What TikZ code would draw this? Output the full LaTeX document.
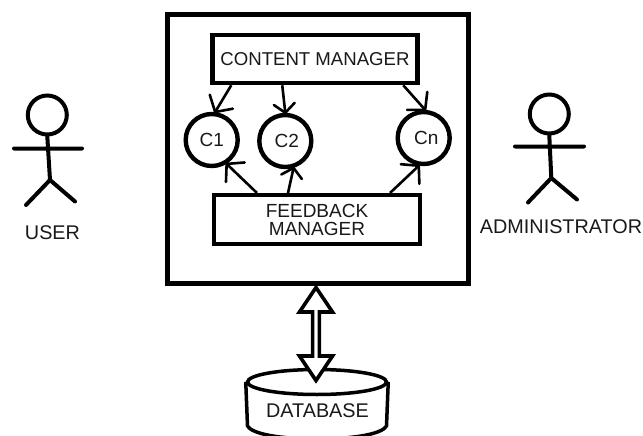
\documentclass[tikz,border=0pt]{standalone}
\usepackage{fontspec}
\setmainfont{Liberation Sans}
\usetikzlibrary{arrows.meta,shapes.arrows,shapes.geometric}
\pgfdeclarearrow{
  name = OpenVee,
  parameters = {\the\pgfarrowlength,\the\pgfarrowwidth},
  setup code = {
    \pgfarrowssettipend{0pt}
    \pgfarrowssetlineend{-1pt}
    \pgfarrowssetbackend{-\pgfarrowlength}
    \pgfarrowssavethe\pgfarrowlength
    \pgfarrowssavethe\pgfarrowwidth
  },
  drawing code = {
    \pgfsetroundcap
    \pgfsetroundjoin
    \pgfsetdash{}{0pt}
    \pgfpathmoveto{\pgfpoint{-\pgfarrowlength}{.5\pgfarrowwidth}}
    \pgfpathlineto{\pgfpoint{0pt}{0pt}}
    \pgfpathlineto{\pgfpoint{-\pgfarrowlength}{-.5\pgfarrowwidth}}
    \pgfusepathqstroke
  },
  defaults = {length=12pt,width=26pt}
}
\tikzset{
  x=1pt,y=-1pt,
  txt/.style={font=\fontsize{19}{18}\selectfont,text=black!90,inner sep=0pt,align=center},
  bigtxt/.style={font=\fontsize{19.8}{18}\selectfont,text=black!90,inner sep=0pt,align=center},
  mgr/.style={draw=black,line width=4.5pt,fill=white,txt,inner sep=0pt},
  comp/.style={circle,draw=black,line width=4.4pt,minimum size=52pt,txt},
  flow/.style={line width=2.6pt,draw=black,-{OpenVee[length=12pt,width=27pt]}},
  flowthin/.style={line width=2.6pt,draw=black,-{OpenVee[length=9pt,width=21pt]}},
  stick/.style={line width=4pt,line cap=round,draw=black},
  dbl/.style={shape=double arrow,draw=black,line width=3.6pt,fill=white,rotate=90,
    minimum height=93pt,minimum width=33pt,double arrow head extend=7pt,inner sep=0pt,
    shape border uses incircle=false,double arrow tip angle=68}
}
\begin{document}
\begin{tikzpicture}
\useasboundingbox (0,0) rectangle (643,436);
\clip (0,0) rectangle (643,436);
\fill[white] (0,0) rectangle (643,436);
% system box
\node[draw=black,line width=5pt,minimum width=301pt,minimum height=268.5pt,inner sep=0pt] (sys) at (318,148.75) {};
% managers
\node[mgr,font=\fontsize{18.6}{18}\selectfont,minimum width=205pt,minimum height=48pt] (cm) at (315,59) {CONTENT MANAGER};
\node[mgr,line width=4pt,minimum width=206pt,minimum height=49pt] (fb) at (317,219.5) {FEEDBACK\\MANAGER};
% components
\node[comp] (c1) at (211.7,140) {C1};
\node[comp] (c2) at (285.3,141) {\hspace*{3pt}C2};
\node[comp] (cn) at (423.7,138) {\hspace*{5pt}Cn};
% connectors
\draw[flow] ([xshift=21pt]cm.south west) -- (c1.83);
\draw[flowthin] ([xshift=72pt]cm.south west) -- (c2.90);
\draw[flow] ([xshift=193pt]cm.south west) -- (cn.87);
\draw[flow] ([xshift=45pt]fb.north west) -- (c1.-58);
\draw[flowthin] ([xshift=76pt]fb.north west) -- (c2.-73);
\draw[flow] ([xshift=178pt]fb.north west) -- (cn.-100);
% database
\node[draw=black,line width=3.5pt,ellipse,minimum width=139pt,minimum height=25pt,inner sep=0pt,fill=white] (dbtop) at (317,382) {};
\draw[line width=3.5pt] (dbtop.west) -- (247.5,426) .. controls (252,434) and (280,439) .. (317,439) .. controls (354,439) and (382,434) .. (386.5,426) -- (dbtop.east);
\node[bigtxt] (db) at (317.5,411) {DATABASE};
% double arrow
\node[dbl] (link) at (316,334) {};
% user
\node[draw=black,circle,line width=4pt,minimum size=39pt,inner sep=0pt] (uh) at (47.3,115) {};
\coordinate (uarml) at (14,148.5);
\coordinate (uarmr) at (82,148.5);
\coordinate (ucrotch) at (50,180);
\coordinate (ulegl) at (26,205);
\coordinate (ulegr) at (75,201.5);
\draw[stick] (uh.south) -- (ucrotch) (uarml) -- (uarmr) (ulegl) -- (ucrotch) -- (ulegr);
\node[bigtxt] (ul) at (52.5,233) {USER};
% administrator
\node[draw=black,circle,line width=4pt,minimum size=39pt,inner sep=0pt] (ah) at (549.3,114) {};
\coordinate (aarml) at (515,146.5);
\coordinate (aarmr) at (584,146.5);
\coordinate (acrotch) at (551.3,178);
\coordinate (alegl) at (528,202.5);
\coordinate (alegr) at (577,199.5);
\draw[stick] (ah.south) -- (acrotch) (aarml) -- (aarmr) (alegl) -- (acrotch) -- (alegr);
\node[bigtxt] (al) at (561,226.5) {ADMINISTRATOR};
\end{tikzpicture}
\end{document}
